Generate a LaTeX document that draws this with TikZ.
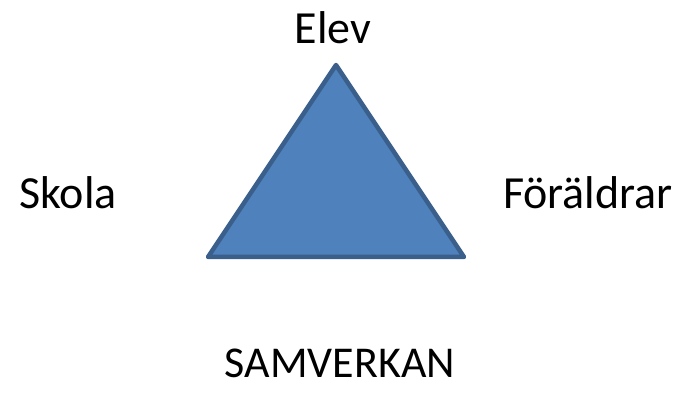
\documentclass[tikz,border=0pt]{standalone}
\usepackage{fontspec}
\setmainfont{Carlito}
\definecolor{trifill}{HTML}{4F81BD}
\definecolor{triedge}{HTML}{3A5F8B}
\begin{document}
\begin{tikzpicture}[x=1pt, y=1pt,
        lbl/.style={font=\fontsize{46}{54}\selectfont, inner sep=0pt, anchor=base},
        tri/.style={fill=trifill, draw=triedge, line width=4.5pt, line join=round}
    ]
        \useasboundingbox (0,0) rectangle (681,394);

        % Triangle
        \coordinate (top) at (336,329);
        \coordinate (left) at (208,137);
        \coordinate (right) at (464,137);
        \draw[tri] (top) -- (right) -- (left) -- cycle;

        % Labels
        \node[lbl] (elev) at (333,350) {Elev};
        \node[lbl] (skola) at (68,185) {Skola};
        \node[lbl] (foraldrar) at (588,185) {Föräldrar};
        \node[lbl, font=\fontsize{44}{52}\selectfont] (samverkan) at (340,16) {SAMVERKAN};
    \end{tikzpicture}
\end{document}
